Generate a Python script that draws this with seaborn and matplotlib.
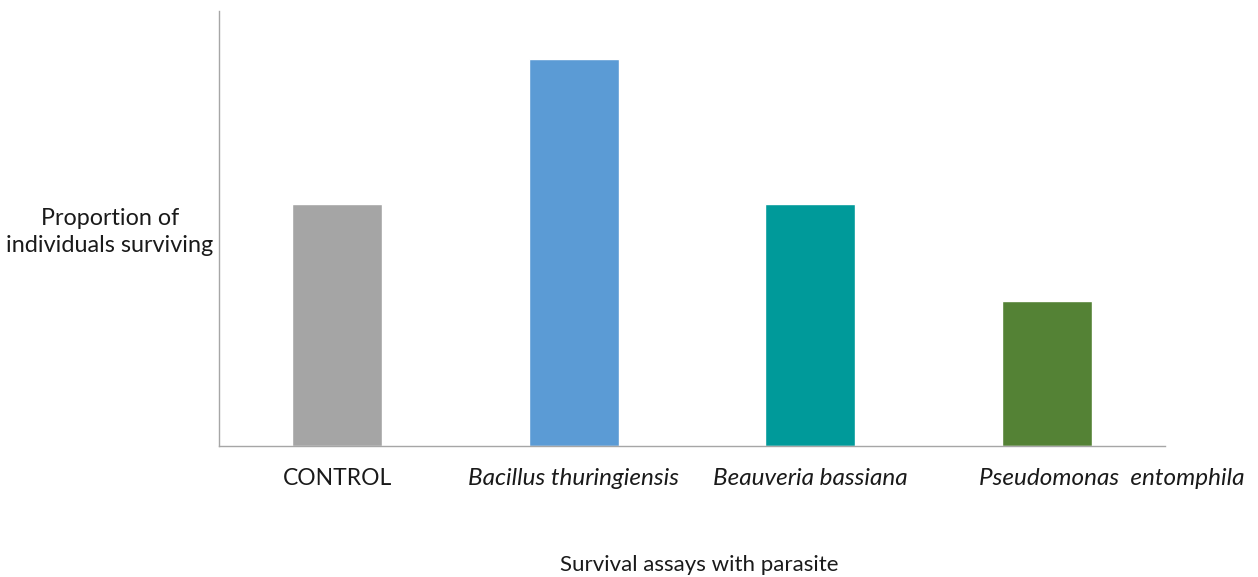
import matplotlib
matplotlib.use("Agg")
import matplotlib.pyplot as plt
import matplotlib.transforms as mtransforms
import seaborn as sns
import pandas as pd

# Survival data per treatment
treatments = ["CONTROL", "Bacillus thuringiensis", "Beauveria bassiana", "Pseudomonas  entomphila"]
survival = [0.5, 0.8, 0.5, 0.3]
bar_colors = ["#A5A5A5", "#5B9BD5", "#009A9A", "#548235"]

df = pd.DataFrame({"treatment": treatments, "survival": survival})

sns.set_theme(style="white")
plt.rcParams["font.family"] = ["Lato", "DejaVu Sans"]

fig = plt.figure(figsize=(12.58, 5.77), dpi=100)
ax = fig.add_axes([0.1741, 0.227, 0.7519, 0.754])

sns.barplot(data=df, x="treatment", y="survival", hue="treatment",
            palette=bar_colors, width=0.38, saturation=1, legend=False, ax=ax)

ax.set_xlim(-0.5, 3.5)
ax.set_ylim(0, 0.9)
ax.set_yticks([])
ax.set_ylabel("")
ax.set_xlabel("")

for side in ["top", "right"]:
    ax.spines[side].set_visible(False)
for side in ["left", "bottom"]:
    ax.spines[side].set_color("#A6A6A6")
    ax.spines[side].set_linewidth(1.0)

ax.tick_params(axis="x", length=0, pad=16)
ax.set_xticks(range(len(treatments)))
ax.set_xticklabels(treatments, fontsize=17.5, color="#1a1a1a")
labels = ax.get_xticklabels()
labels[0].set_fontsize(16.5)
for lab in labels[1:]:
    lab.set_fontstyle("italic")
# the last species name sits a little to the right of its bar
shift = mtransforms.ScaledTranslation(0.65, 0, fig.dpi_scale_trans)
labels[-1].set_transform(labels[-1].get_transform() + shift)

fig.text(110 / 1258, 1 - 232 / 577, "Proportion of\nindividuals surviving",
         ha="center", va="center", fontsize=16.8, color="#1a1a1a", linespacing=1.3)
fig.text(699 / 1258, 1 - 565 / 577, "Survival assays with parasite",
         ha="center", va="center", fontsize=16, color="#1a1a1a")

fig.savefig("out.png", dpi=100)
